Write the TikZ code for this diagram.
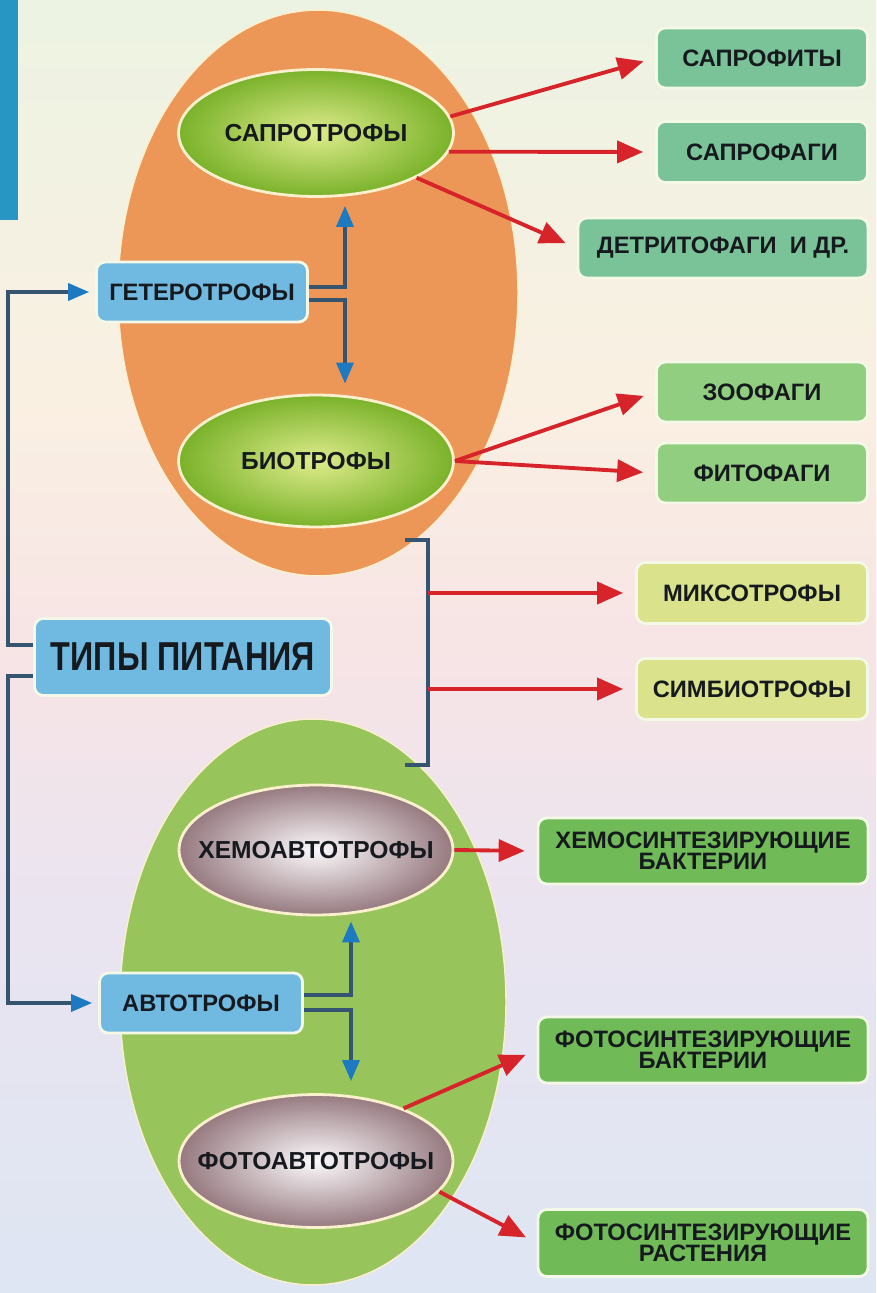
\documentclass[tikz,border=0pt]{standalone}
\usepackage{fontspec}
\setmainfont{Liberation Sans}
\newfontfamily\titlefont[FakeStretch=0.8]{Liberation Sans}
\usetikzlibrary{shapes.geometric,arrows.meta}
\definecolor{bgtop}{RGB}{236,243,226}
\definecolor{bgpeach}{RGB}{250,240,226}
\definecolor{bgmid}{RGB}{247,228,229}
\definecolor{bglilac}{RGB}{234,228,240}
\definecolor{bgbottom}{RGB}{222,229,243}
\definecolor{stripblue}{RGB}{40,150,195}
\definecolor{orangeoval}{RGB}{236,150,88}
\definecolor{greenoval}{RGB}{152,196,92}
\definecolor{ovalrim}{RGB}{250,240,205}
\definecolor{ovlight}{RGB}{222,236,140}
\definecolor{ovgreen}{RGB}{122,178,42}
\definecolor{ovwhite}{RGB}{252,250,252}
\definecolor{ovmauve}{RGB}{150,122,128}
\definecolor{headblue}{RGB}{112,186,226}
\definecolor{tealbox}{RGB}{122,194,152}
\definecolor{leafbox}{RGB}{146,206,128}
\definecolor{limebox}{RGB}{218,226,140}
\definecolor{grassbox}{RGB}{112,186,88}
\definecolor{boxedge}{RGB}{244,248,230}
\definecolor{textdark}{RGB}{22,26,30}
\definecolor{arrowred}{RGB}{214,36,42}
\definecolor{lineslate}{RGB}{52,84,112}
\definecolor{tipblue}{RGB}{30,122,192}
\pgfdeclareverticalshading{bgfade}{100bp}{color(0bp)=(bgbottom); color(25bp)=(bgbottom); color(40bp)=(bglilac); color(50bp)=(bgmid); color(59.5bp)=(bgpeach); color(75bp)=(bgtop); color(100bp)=(bgtop)}
\tikzset{
  box/.style={draw=boxedge, line width=1.6pt, rounded corners=5pt, inner sep=0pt,
    text=textdark, align=center, font=\fontsize{13.5}{15}\selectfont\bfseries},
  oval/.style={ellipse, draw=ovalrim, line width=1.6pt, inner sep=0pt},
  ovaltext/.style={text=textdark, font=\fontsize{14}{16}\selectfont\bfseries},
  bigoval/.style={ellipse, draw=ovalrim, line width=0.8pt, inner sep=0pt},
  greenshade/.style={inner color=ovlight, outer color=ovgreen},
  mauveshade/.style={inner color=ovwhite, outer color=ovmauve},
  redarrow/.style={draw=arrowred, line width=2.2pt, shorten >=0.24cm,
    -{Triangle[length=0.52cm,width=0.44cm]}},
  bluearrow/.style={draw=lineslate, line width=2pt, shorten >=0.12cm,
    -{Triangle[length=0.42cm,width=0.34cm,color=tipblue]}},
  bracket/.style={draw=lineslate, line width=2pt}
}
\begin{document}
\begin{tikzpicture}[x=0.02cm,y=-0.02cm]
\shade[shading=bgfade] (0,0) rectangle (876,1293);
\fill[stripblue] (0,0) rectangle (18,220);
\node[bigoval, fill=orangeoval, minimum width=8cm, minimum height=11.32cm] (hetoval) at (318,293) {};
\node[bigoval, fill=greenoval, minimum width=7.72cm, minimum height=11.32cm] (autoval) at (313,1002) {};
\node[oval, greenshade, minimum width=5.5cm, minimum height=2.54cm, label={[ovaltext]center:САПРОТРОФЫ}] (sapr) at (316,133) {};
\node[oval, greenshade, minimum width=5.5cm, minimum height=2.64cm, label={[ovaltext]center:БИОТРОФЫ}] (bio) at (316,461) {};
\node[oval, mauveshade, minimum width=5.48cm, minimum height=2.6cm, label={[ovaltext]center:ХЕМОАВТОТРОФЫ}] (hemo) at (316,850) {};
\node[oval, mauveshade, minimum width=5.48cm, minimum height=2.66cm, label={[ovaltext]center:ФОТОАВТОТРОФЫ}] (foto) at (316,1161) {};
\node[box, fill=headblue, minimum width=4.22cm, minimum height=1.2cm] (geter) at (202,292) {ГЕТЕРОТРОФЫ};
\node[box, fill=headblue, minimum width=4.06cm, minimum height=1.2cm] (avto) at (201,1003) {АВТОТРОФЫ};
\node[box, fill=headblue, minimum width=5.94cm, minimum height=1.54cm, font=\titlefont\fontsize{23}{25}\selectfont\bfseries] (tipy) at (183,657) {ТИПЫ ПИТАНИЯ};
\node[box, fill=tealbox, minimum width=4.22cm, minimum height=1.2cm] (saprofity) at (762,58) {САПРОФИТЫ};
\node[box, fill=tealbox, minimum width=4.22cm, minimum height=1.22cm] (saprofagi) at (762,152) {САПРОФАГИ};
\node[box, fill=tealbox, minimum width=5.8cm, minimum height=1.2cm] (detrit) at (723,248) {ДЕТРИТОФАГИ\ \ И ДР.};
\node[box, fill=leafbox, minimum width=4.22cm, minimum height=1.2cm] (zoofagi) at (762,392) {ЗООФАГИ};
\node[box, fill=leafbox, minimum width=4.22cm, minimum height=1.2cm] (fitofagi) at (762,473) {ФИТОФАГИ};
\node[box, fill=limebox, minimum width=4.62cm, minimum height=1.22cm] (mikso) at (752,593) {МИКСОТРОФЫ};
\node[box, fill=limebox, minimum width=4.62cm, minimum height=1.22cm] (simbio) at (752,689) {СИМБИОТРОФЫ};
\node[box, fill=grassbox, minimum width=6.6cm, minimum height=1.32cm] (hemobak) at (703,851) {ХЕМОСИНТЕЗИРУЮЩИЕ\\[-3pt]БАКТЕРИИ};
\node[box, fill=grassbox, minimum width=6.6cm, minimum height=1.32cm] (fotobak) at (703,1050) {ФОТОСИНТЕЗИРУЮЩИЕ\\[-3pt]БАКТЕРИИ};
\node[box, fill=grassbox, minimum width=6.6cm, minimum height=1.34cm] (fotorast) at (703,1243) {ФОТОСИНТЕЗИРУЮЩИЕ\\[-3pt]РАСТЕНИЯ};
\coordinate (brtop) at (405,540);
\coordinate (brbot) at (405,765);
\coordinate (brx) at (428,0);
\draw[bracket] (brtop) -| (brx |- brbot) -- (brbot);
\draw[redarrow] (sapr.7) -- (saprofity.west);
\draw[redarrow] (sapr.-8) -- (saprofagi.west);
\draw[redarrow] (sapr.-24) -- (detrit.west);
\draw[redarrow] (bio.east) -- (zoofagi.west);
\draw[redarrow] (bio.east) -- (fitofagi.west);
\draw[redarrow] (brx |- mikso.west) -- (mikso.west);
\draw[redarrow] (brx |- simbio.west) -- (simbio.west);
\draw[redarrow] (hemo.east) -- (hemobak.west);
\draw[redarrow] (foto.31) -- (fotobak.west);
\draw[redarrow] (foto.-14) -- (fotorast.west);
\draw[bluearrow] ([yshift=0.24cm]tipy.west) -- ++(-25,0) |- (geter.west);
\draw[bluearrow] ([yshift=-0.38cm]tipy.west) -- ++(-25,0) |- (avto.west);
\draw[bluearrow, shorten >=0pt] ([yshift=0.1cm]geter.east) -| ([xshift=0.58cm,yshift=-0.16cm]sapr.south);
\draw[bluearrow, shorten >=0pt] ([yshift=-0.16cm]geter.east) -| ([xshift=0.58cm,yshift=0.2cm]bio.north);
\draw[bluearrow, shorten >=0pt] ([yshift=0.16cm]avto.east) -| ([xshift=0.7cm,yshift=-0.1cm]hemo.south);
\draw[bluearrow, shorten >=0pt] ([yshift=-0.14cm]avto.east) -| ([xshift=0.7cm,yshift=0.24cm]foto.north);
\end{tikzpicture}
\end{document}
